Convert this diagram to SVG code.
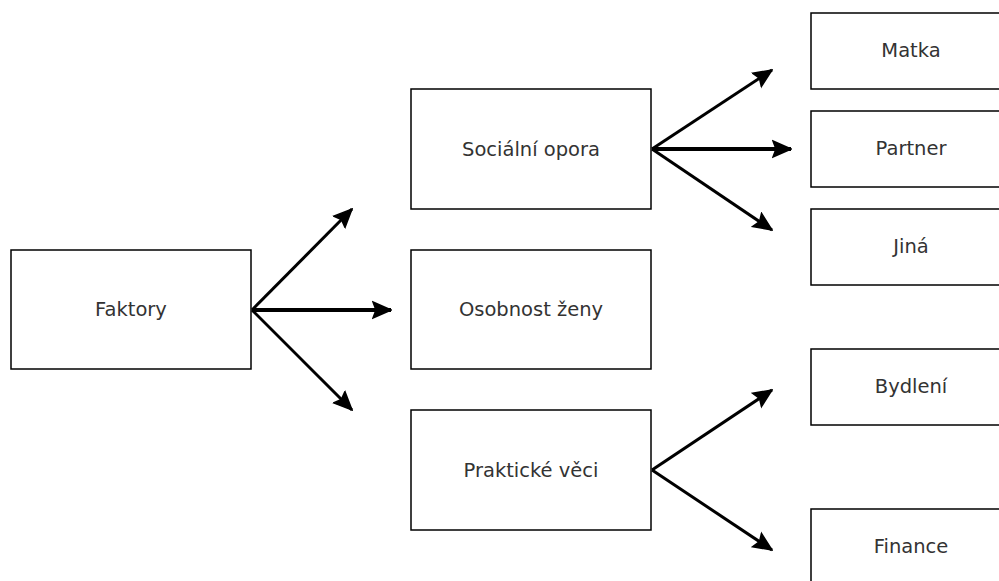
<svg xmlns="http://www.w3.org/2000/svg" width="999" height="581" viewBox="0 0 999 581">
<style>
.box{fill:#fff;stroke:#000;stroke-width:1.5}
.lbl{font-family:"DejaVu Sans","Liberation Sans",sans-serif;font-size:19.5px;fill:#333;text-anchor:middle;dominant-baseline:central}
.edge{stroke:#000;stroke-width:3;fill:none}
.h{stroke-width:4}
</style>
<defs>
<marker id="ah" markerUnits="userSpaceOnUse" viewBox="0 0 20 20" refX="19" refY="10" markerWidth="20" markerHeight="20" orient="auto">
<path d="M1,2 L19,10 L1,18 L4,10 Z" fill="#000" stroke="#000" stroke-width="1.5" stroke-linejoin="miter"/>
</marker>
</defs>
<rect width="999" height="581" fill="#fff"/>
<g id="connectors">
<line class="edge" x1="252" y1="310" x2="352" y2="209" marker-end="url(#ah)"/>
<line class="edge h" x1="252" y1="310" x2="391" y2="310" marker-end="url(#ah)"/>
<line class="edge" x1="252" y1="310" x2="352" y2="410" marker-end="url(#ah)"/>
<line class="edge" x1="652" y1="149" x2="772" y2="70" marker-end="url(#ah)"/>
<line class="edge h" x1="652" y1="149" x2="791" y2="149" marker-end="url(#ah)"/>
<line class="edge" x1="652" y1="149" x2="772" y2="230" marker-end="url(#ah)"/>
<line class="edge" x1="652" y1="470" x2="772" y2="390" marker-end="url(#ah)"/>
<line class="edge" x1="652" y1="470" x2="772" y2="550" marker-end="url(#ah)"/>
</g>
<g id="faktory"><rect class="box" x="11" y="250" width="240" height="119"/><text class="lbl" x="131" y="309">Faktory</text></g>
<g id="socialni"><rect class="box" x="411" y="89" width="240" height="120"/><text class="lbl" x="531" y="149">Sociální opora</text></g>
<g id="osobnost"><rect class="box" x="411" y="250" width="240" height="119"/><text class="lbl" x="531" y="309">Osobnost ženy</text></g>
<g id="prakticke"><rect class="box" x="411" y="410" width="240" height="120"/><text class="lbl" x="531" y="470">Praktické věci</text></g>
<g id="matka"><rect class="box" x="811" y="13" width="200" height="76"/><text class="lbl" x="911" y="50">Matka</text></g>
<g id="partner"><rect class="box" x="811" y="111" width="200" height="76"/><text class="lbl" x="911" y="148">Partner</text></g>
<g id="jina"><rect class="box" x="811" y="209" width="200" height="76"/><text class="lbl" x="911" y="246">Jiná</text></g>
<g id="bydleni"><rect class="box" x="811" y="349" width="200" height="76"/><text class="lbl" x="911" y="386">Bydlení</text></g>
<g id="finance"><rect class="box" x="811" y="509" width="200" height="76"/><text class="lbl" x="911" y="546">Finance</text></g>
</svg>
